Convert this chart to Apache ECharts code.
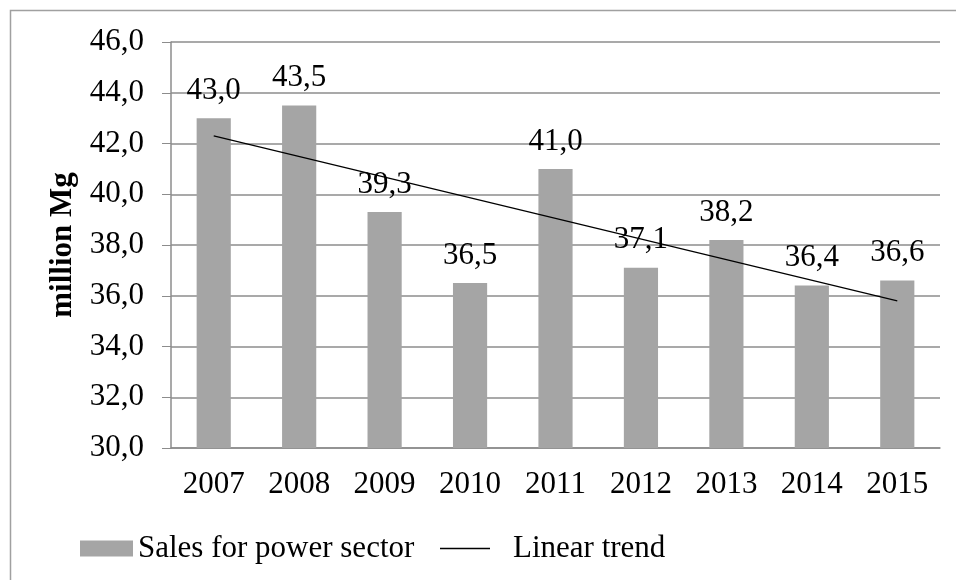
<!DOCTYPE html>
<html>
<head>
<meta charset="utf-8">
<script src="https://cdn.jsdelivr.net/npm/echarts@6/dist/echarts.min.js"></script>
<style>
  html, body { margin: 0; padding: 0; background: #fff; }
  #chart { width: 956px; height: 580px; }
</style>
</head>
<body>
<div id="chart"></div>
<script>
// years on the x axis
var years = ['2007', '2008', '2009', '2010', '2011', '2012', '2013', '2014', '2015'];
// sales for power sector, million Mg
var sales = [43.0, 43.5, 39.3, 36.5, 41.0, 37.1, 38.2, 36.4, 36.6];
// linear trend at its two ends
var trend = [42.3, null, null, null, null, null, null, null, 35.8];

var font = 'Liberation Serif, Times New Roman, serif';
var myChart = echarts.init(document.getElementById('chart'));

// 43.5 -> "43,5"
function comma(v) {
  return v.toFixed(1).replace('.', ',');
}

myChart.setOption({
  animation: false,
  textStyle: { fontFamily: font },
  graphic: [{
    type: 'rect',
    shape: { x: 10.5, y: 10.5, width: 1000, height: 700 },
    style: { fill: 'none', stroke: '#a0a0a0', lineWidth: 1.5 },
    silent: true
  }],
  grid: { left: 171, right: 16, top: 42, bottom: 132 },
  legend: [{
    left: 75, top: 528,
    itemWidth: 53, itemHeight: 16,
    textStyle: { fontFamily: font, fontSize: 31, color: '#000' },
    data: [{ name: 'Sales for power sector', icon: 'rect' }]
  }, {
    left: 435, top: 528,
    itemWidth: 50, itemHeight: 1.5,
    textStyle: { fontFamily: font, fontSize: 31, color: '#000', padding: [0, 0, 0, 18] },
    data: [{ name: 'Linear trend', icon: 'rect', itemStyle: { color: '#000' } }]
  }],
  xAxis: {
    type: 'category',
    data: years,
    axisLine: { lineStyle: { color: '#8c8c8c', width: 1.5 } },
    axisTick: { length: 9, lineStyle: { color: '#8c8c8c' } },
    axisLabel: { color: '#000', fontSize: 31, fontFamily: font, margin: 21 }
  },
  yAxis: {
    type: 'value',
    min: 30, max: 46, interval: 2,
    name: 'million Mg',
    nameLocation: 'middle',
    nameGap: 92,
    nameTextStyle: { fontFamily: font, fontSize: 31, fontWeight: 'bold', color: '#000' },
    axisLine: { show: true, lineStyle: { color: '#8c8c8c', width: 1.5 } },
    axisTick: { show: true, length: 9, lineStyle: { color: '#8c8c8c' } },
    splitLine: { lineStyle: { color: '#8c8c8c', width: 1.5 } },
    axisLabel: {
      color: '#000', fontSize: 31, fontFamily: font, margin: 27,
      formatter: comma
    }
  },
  series: [{
    name: 'Sales for power sector',
    type: 'bar',
    data: sales,
    barWidth: '40%',
    itemStyle: { color: '#a5a5a5' },
    label: {
      show: true, position: 'top', distance: 12,
      color: '#000', fontSize: 31, fontFamily: font,
      formatter: function (p) { return comma(p.value); }
    }
  }, {
    name: 'Linear trend',
    type: 'line',
    data: trend,
    connectNulls: true,
    symbol: 'none',
    lineStyle: { color: '#000', width: 1.2 },
    itemStyle: { color: '#000' },
    z: 5
  }]
});
</script>
</body>
</html>
